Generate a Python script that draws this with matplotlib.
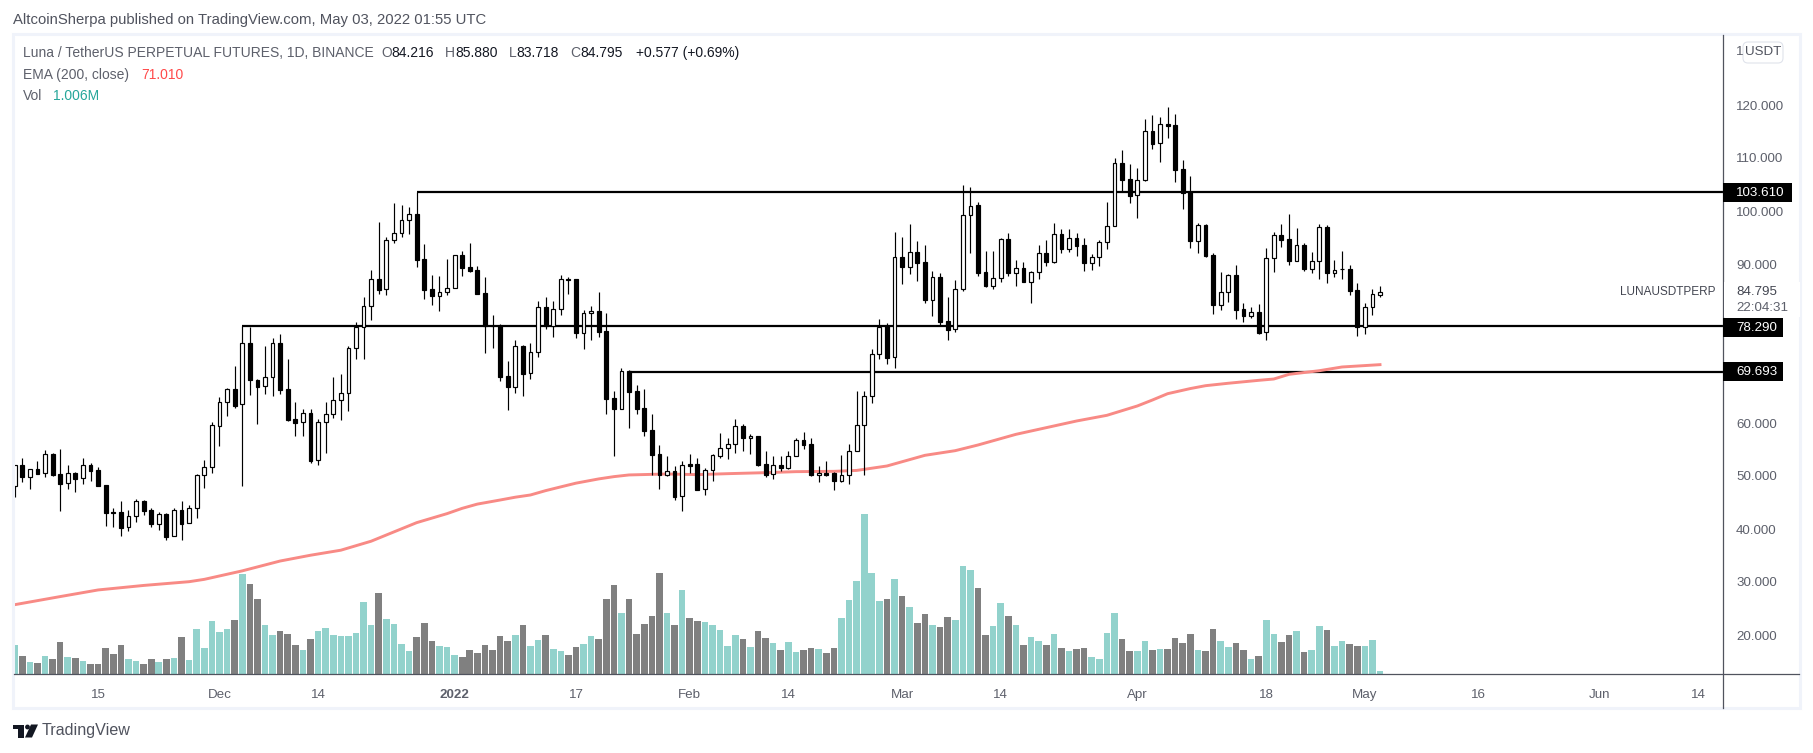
import matplotlib
matplotlib.use('Agg')
import matplotlib.pyplot as plt
import matplotlib.dates as mdates
from matplotlib.patches import Rectangle, FancyBboxPatch, Polygon, Circle
import numpy as np
import pandas as pd

# Daily candles, values
opens = [48.1, 52.1, 49.9, 51.3, 50.5, 54.15, 50.38, 48.62, 50.57, 49.56,
         52.08, 51.14, 48.3, 43.15, 43.21, 40.32, 42.39, 45.22, 43.53, 41.01,
         42.77, 38.62, 43.53, 41.07, 43.9, 50.13, 51.64, 59.5, 63.9, 66.35,
         63.52, 75.03, 68.12, 66.92, 68.62, 75.03, 66.35, 60.76, 60.13, 61.83,
         52.96, 60.13, 61.64, 64.28, 65.6, 74.09, 78.12, 82.02, 87.11, 85.22,
         94.47, 95.79, 98.24, 99.37, 90.88, 85.22, 84.03, 84.66, 85.41, 91.64,
         89.37, 88.81, 84.47, 78.37, 78.37, 68.81, 66.86, 74.47, 69.37, 73.34,
         81.83, 78.24, 81.45, 87.11, 87.11, 77.05, 80.69, 81.07, 77.3, 64.66,
         62.71, 69.81, 65.98, 62.77, 58.62, 54.09, 50.26, 50.88, 46.17, 52.2,
         52.2, 47.49, 51.07, 53.84, 55.22, 55.98, 59.37, 57.24, 57.49, 52.2,
         50.32, 52.02, 51.58, 53.71, 56.73, 55.98, 50.26, 50.51, 50.51, 49.12,
         50.13, 54.66, 59.56, 65.03, 72.96, 78.3, 72.39, 91.26, 89.5, 92.2,
         90.32, 83.27, 87.49, 79.19, 77.67, 85.22, 99.18, 101.07, 88.43, 85.91,
         87.3, 94.66, 88.37, 89.18, 86.67, 88.43, 92.01, 90.44, 95.6, 92.9,
         94.84, 93.52, 90.25, 91.26, 94.09, 97.11, 109.0, 105.98, 102.96, 105.79,
         115.03, 112.77, 116.35, 116.23, 107.86, 103.52, 94.4, 97.3, 91.64, 82.33,
         84.66, 87.86, 81.45, 80.25, 80.88, 77.11, 91.07, 95.41, 94.66, 90.63,
         93.52, 89.12, 90.5, 96.92, 88.37, 88.99, 89.0, 85.03, 78.05, 81.95,
         84.216]
highs = [52.1, 53.34, 51.3, 52.83, 54.91, 54.28, 55.1, 52.08, 50.82, 53.34,
         52.46, 51.64, 48.3, 44.03, 45.22, 43.53, 45.66, 45.47, 43.97, 43.27,
         42.96, 43.9, 45.22, 44.47, 50.38, 53.02, 60.13, 64.85, 66.54, 70.76,
         78.37, 78.18, 68.24, 74.53, 75.98, 76.79, 72.08, 63.97, 62.64, 62.64,
         60.76, 63.9, 68.68, 69.25, 74.53, 79.0, 83.71, 88.87, 97.86, 95.03,
         101.51, 101.13, 100.69, 103.61, 93.71, 87.93, 87.74, 90.88, 91.64, 92.45,
         93.9, 89.62, 87.49, 80.38, 78.62, 71.7, 75.66, 74.66, 75.03, 83.02,
         83.78, 83.02, 87.93, 87.55, 87.11, 81.32, 82.08, 84.66, 80.69, 66.04,
         70.38, 70.0, 67.17, 66.35, 61.7, 55.79, 53.78, 51.89, 52.77, 54.09,
         53.34, 51.45, 54.09, 58.12, 57.17, 60.76, 59.88, 57.87, 57.49, 54.72,
         53.71, 53.71, 54.72, 57.11, 58.24, 57.11, 51.83, 52.77, 50.7, 53.9,
         55.98, 66.04, 66.04, 73.9, 79.56, 78.93, 95.98, 95.1, 97.49, 94.28,
         93.59, 88.62, 88.3, 83.78, 86.98, 104.91, 104.53, 101.64, 92.39, 92.39,
         94.84, 95.79, 90.76, 90.32, 88.62, 93.59, 94.53, 97.67, 96.54, 96.54,
         95.79, 94.84, 91.89, 94.53, 101.7, 109.94, 111.45, 108.81, 108.05, 117.36,
         118.11, 117.67, 119.62, 118.3, 109.56, 106.54, 97.67, 97.49, 92.01, 88.49,
         88.05, 89.75, 82.58, 81.83, 82.39, 93.02, 95.98, 97.49, 99.37, 96.73,
         93.9, 92.2, 97.49, 97.3, 90.69, 92.39, 89.75, 86.35, 82.58, 85.22,
         85.88]
lows = [46.1, 48.94, 47.61, 50.4, 49.9, 50.0, 43.46, 47.61, 47.05, 48.56,
        49.12, 48.18, 40.63, 40.44, 38.75, 39.69, 41.39, 42.65, 40.44, 39.88,
        37.99, 38.62, 37.99, 41.07, 42.14, 47.8, 50.63, 55.73, 61.39, 62.9,
        48.18, 65.35, 59.88, 65.47, 65.1, 65.54, 60.44, 57.61, 57.55, 52.52,
        52.14, 54.41, 61.01, 60.63, 62.33, 72.14, 72.14, 79.5, 84.4, 84.22,
        93.9, 95.16, 95.72, 89.5, 83.46, 82.33, 81.2, 84.22, 85.41, 87.8,
        88.56, 84.4, 73.27, 74.22, 67.99, 62.52, 65.73, 65.16, 68.37, 72.52,
        77.8, 76.29, 80.44, 84.4, 76.1, 74.03, 75.72, 76.29, 61.76, 53.84,
        62.71, 59.12, 61.76, 57.61, 50.26, 47.61, 50.07, 45.54, 43.46, 50.63,
        47.43, 46.48, 49.12, 53.46, 53.15, 54.41, 54.78, 54.22, 51.95, 49.88,
        49.5, 51.01, 51.39, 53.71, 55.16, 50.07, 48.94, 49.94, 47.43, 48.94,
        48.56, 54.66, 50.26, 63.84, 72.14, 71.2, 70.44, 86.23, 88.11, 86.86,
        82.71, 80.25, 78.49, 75.73, 77.24, 84.97, 92.08, 87.8, 85.66, 85.35,
        86.67, 87.8, 85.91, 86.54, 82.71, 87.17, 89.69, 90.25, 92.14, 92.33,
        91.57, 88.68, 88.93, 89.69, 92.9, 97.11, 103.71, 101.57, 98.74, 105.6,
        111.76, 109.31, 113.84, 105.54, 100.44, 93.08, 92.01, 91.39, 80.63, 81.39,
        82.83, 79.69, 79.12, 79.88, 76.86, 75.73, 88.55, 93.27, 89.88, 90.63,
        88.74, 88.37, 87.23, 86.48, 87.61, 87.23, 84.22, 76.48, 76.86, 80.44,
        83.718]
closes = [52.1, 49.9, 51.3, 50.44, 54.09, 50.19, 48.56, 50.51, 49.5, 52.02,
          51.01, 48.18, 43.09, 43.1, 40.26, 42.39, 45.22, 43.46, 41.01, 42.77,
          38.56, 43.53, 41.01, 43.9, 50.13, 51.64, 59.56, 63.9, 66.35, 63.27,
          75.03, 68.05, 66.86, 68.62, 75.03, 66.29, 60.63, 60.07, 61.83, 52.9,
          60.13, 61.64, 64.28, 65.6, 74.09, 78.12, 82.02, 87.11, 85.16, 94.47,
          95.79, 98.24, 99.37, 90.82, 85.16, 84.03, 84.66, 85.41, 91.64, 89.31,
          88.68, 84.4, 78.37, 78.3, 68.74, 66.86, 74.47, 69.31, 73.34, 81.83,
          78.37, 81.45, 87.11, 87.05, 77.05, 80.69, 81.07, 77.23, 64.59, 62.71,
          69.75, 65.92, 62.71, 58.56, 54.03, 50.26, 50.88, 46.1, 52.02, 51.95,
          47.43, 51.07, 53.9, 55.22, 55.98, 59.37, 57.24, 57.49, 52.08, 50.26,
          52.02, 51.58, 53.71, 56.73, 55.92, 50.26, 50.51, 50.19, 49.12, 50.13,
          54.66, 59.56, 65.03, 72.96, 78.12, 72.33, 91.26, 89.5, 92.2, 90.25,
          83.27, 87.49, 79.12, 77.61, 85.22, 99.18, 101.0, 88.37, 85.85, 87.3,
          94.66, 88.3, 89.18, 86.67, 88.43, 92.01, 90.44, 95.6, 92.9, 94.84,
          93.46, 90.25, 91.26, 94.09, 97.11, 109.0, 105.91, 102.89, 105.79, 115.03,
          112.7, 116.35, 116.1, 107.8, 103.33, 94.4, 97.3, 91.51, 82.33, 84.66,
          87.86, 81.39, 80.25, 80.88, 77.05, 91.07, 95.41, 94.59, 90.63, 93.52,
          89.06, 90.5, 96.92, 88.37, 88.93, 89.0, 84.97, 78.05, 81.95, 84.28,
          84.795]
# Volume in millions
volumes = [8.8, 5.5, 3.7, 3.4, 5.5, 4.6, 9.7, 5.2, 4.9, 4.0,
           3.1, 3.1, 7.9, 6.1, 8.8, 4.6, 4.0, 3.1, 4.6, 3.7,
           4.6, 4.9, 11.2, 4.3, 13.6, 7.9, 16.0, 12.7, 13.6, 16.3,
           30.1, 27.1, 22.6, 14.8, 11.8, 13.0, 12.1, 8.8, 7.3, 10.6,
           13.0, 13.9, 11.8, 11.5, 11.5, 12.4, 21.7, 14.8, 24.4, 16.6,
           15.1, 9.1, 7.0, 11.2, 15.4, 10.0, 8.5, 8.2, 5.8, 5.2,
           7.3, 6.4, 8.8, 7.3, 11.5, 10.0, 11.8, 14.8, 8.5, 10.3,
           11.8, 7.6, 7.0, 5.8, 8.2, 9.1, 11.5, 10.6, 22.6, 26.8,
           18.4, 22.6, 12.1, 15.1, 17.5, 30.4, 18.4, 14.8, 25.3, 16.9,
           16.0, 15.7, 14.8, 13.3, 8.5, 11.8, 10.6, 8.2, 13.0, 10.9,
           9.4, 7.3, 9.7, 6.7, 7.3, 7.9, 7.6, 6.4, 7.9, 16.9,
           22.3, 28.0, 48.1, 30.4, 22.0, 22.6, 28.6, 23.5, 20.2, 15.4,
           18.1, 14.8, 14.2, 17.2, 16.3, 32.5, 31.3, 25.9, 11.8, 14.5,
           21.4, 17.5, 14.8, 8.8, 11.2, 10.0, 8.8, 12.1, 7.9, 7.0,
           7.6, 7.9, 5.2, 4.6, 12.4, 18.4, 10.6, 7.0, 7.0, 10.0,
           7.3, 7.6, 7.6, 10.9, 9.4, 12.1, 7.3, 7.0, 13.6, 10.0,
           8.2, 9.4, 7.3, 4.6, 5.5, 16.3, 12.1, 9.7, 11.8, 13.0,
           6.7, 7.3, 14.5, 13.3, 8.5, 10.0, 9.1, 8.5, 8.5, 10.3,
           1.006]
# EMA 200 read at a number of days
ema_days = [0, 6, 11, 17, 23, 25, 30, 35, 39, 43, 47, 49, 53, 57, 59, 61, 64, 66, 68, 70, 72, 74, 77, 79, 81,
            86, 90, 94, 99, 103, 108, 111, 115, 120, 124, 127, 132, 140, 144, 148, 150, 152,
            155, 157, 160, 164, 166, 168, 172, 175, 180]
ema_values = [25.72, 27.25, 28.5, 29.35, 30.06, 30.5, 32.1, 33.96, 35.05, 36.0, 37.7, 38.87,
              41.2, 42.9, 43.9, 44.7, 45.47, 46.0, 46.42, 47.24, 47.95, 48.65, 49.45, 49.88, 50.2,
              50.38, 50.26, 50.44, 50.63, 50.82, 50.88, 51.05, 51.89, 53.9, 54.78, 55.85, 57.86,
              60.38, 61.45, 63.21, 64.34, 65.53, 66.5, 67.04, 67.5, 68.05, 68.3, 69.18, 69.87,
              70.57, 71.01]

# (level, index of the candle the line starts from)
level_prices = [103.61, 78.29, 69.693]
level_starts = [53, 30, 81]
price_ticks = [120, 110, 100, 90, 60, 50, 40, 30, 20]
date_ticks = ['2021-11-15', '2021-12-01', '2021-12-14', '2022-01-01', '2022-01-17', '2022-02-01',
              '2022-02-14', '2022-03-01', '2022-03-14', '2022-04-01', '2022-04-18', '2022-05-01',
              '2022-05-16', '2022-06-01', '2022-06-14']
date_labels = ['15', 'Dec', '14', '2022', '17', 'Feb', '14', 'Mar', '14', 'Apr', '18', 'May',
               '16', 'Jun', '14']

W, H = 1813, 753
FONT = 'Liberation Sans'
TEAL = '#92d2cc'
GRAY = '#808080'
AXIS = '#50535e'
TEXT = '#5d606b'

opens, highs, lows, closes = map(np.array, (opens, highs, lows, closes))
dates = pd.date_range('2021-11-04', periods=len(opens))
x = mdates.date2num(dates)
up = closes >= opens

fig = plt.figure(figsize=(W / 100, H / 100), dpi=100, facecolor='white')

# plot area in pixels: x 14-1723, y 35-674
rect = [14 / W, 1 - 674 / H, (1723 - 14) / W, (674 - 35) / H]
vol_ax = fig.add_axes(rect, zorder=1)
ax = fig.add_axes(rect, zorder=2, sharex=vol_ax)
ax.patch.set_visible(False)

px_per_day = 7.585
ax.set_xlim(x[0] - 0.09, x[0] + (1723 - 14.7) / px_per_day)
ax.set_ylim(120 - 569 / 5.3, 120 + 70 / 5.3)
vol_ax.set_ylim(0, 639 / 3.33)

# volume
vol_ax.bar(x, volumes, width=0.87, color=[TEAL if u else GRAY for u in up], linewidth=0)
vol_ax.set_yticks([])
for a in (ax, vol_ax):
    for s in a.spines.values():
        s.set_visible(False)

# levels, EMA, then candles on top
for lvl, st in zip(level_prices, level_starts):
    ax.plot([x[st], ax.get_xlim()[1]], [lvl, lvl], color='black', lw=1.6, zorder=2,
            solid_capstyle='butt')
ax.plot(x[ema_days], ema_values, color='#f88a85', lw=2.1, zorder=3)
ax.vlines(x, lows, highs, color='black', lw=0.85, zorder=4)
ax.bar(x, np.abs(closes - opens), bottom=np.minimum(opens, closes), width=0.5,
       color=['white' if u else 'black' for u in up], edgecolor='black', linewidth=0.85, zorder=5)

ax.yaxis.tick_right()
ax.set_yticks(price_ticks)
ax.set_yticklabels(['%.3f' % t for t in price_ticks], fontsize=9.6, family=FONT, color=TEXT)
ax.set_xticks(mdates.date2num(pd.to_datetime(date_ticks)))
ax.set_xticklabels(date_labels, fontsize=9.6, family=FONT, color=TEXT)
ax.tick_params(axis='both', length=0)
ax.tick_params(axis='y', pad=9.4)
ax.tick_params(axis='x', pad=11)
for lab in ax.get_xticklabels():
    if lab.get_text() == '2022':
        lab.set_fontweight('bold')
plt.setp(vol_ax.get_xticklabels(), visible=False)
vol_ax.tick_params(axis='x', length=0)

# overlay in pixel coordinates for the frame, header and price tags
ui = fig.add_axes([0, 0, 1, 1], zorder=5)
ui.set_xlim(0, W)
ui.set_ylim(H, 0)
ui.axis('off')

ui.add_patch(Rectangle((12.5, 34), 1800 - 12.5, 708 - 34, fill=False, edgecolor='#f0f3fa', lw=2.2))
ui.plot([14, 1799], [674, 674], color=AXIS, lw=0.9)
ui.plot([1723, 1723], [35, 708], color=AXIS, lw=0.9)


def label(px, py, s, color=TEXT, size=9.6, **kw):
    ui.text(px, py, s, color=color, fontsize=size, family=FONT, va='center', **kw)


label(13, 20, 'AltcoinSherpa published on TradingView.com, May 03, 2022 01:55 UTC', color='#50535e', size=10.7)
label(23, 53, 'Luna / TetherUS PERPETUAL FUTURES, 1D, BINANCE', size=10)
for px, head, val in [(381, 'O', '84.216'), (445, 'H', '85.880'), (509, 'L', '83.718'), (570, 'C', '84.795')]:
    t = ui.text(px, 53, head, color=TEXT, fontsize=10, family=FONT, va='center')
    ui.annotate(val, xy=(1, 0.5), xycoords=t, va='center', color='#131722', fontsize=10, family=FONT)
label(636, 53, '+0.577 (+0.69%)', color='#131722', size=10)
label(23, 75, 'EMA (200, close)', size=10)
label(141, 75, '71.010', color='#ff4a4a', size=10)
label(23, 96, 'Vol', size=10)
label(53, 96, '1.006M', color='#26a69a', size=10)

# USDT button hides most of the top tick label, only its first digit shows
label(1736, 52, '1')
ui.add_patch(FancyBboxPatch((1745, 44), 36, 17, boxstyle='round,pad=2,rounding_size=5',
                            facecolor='white', edgecolor='#e0e3eb', lw=0.8))
label(1763, 52, 'USDT', color='#50535e', ha='center')

# current price block sits on the axis line
ui.add_patch(Rectangle((1723.5, 282), 76, 35, facecolor='white', edgecolor='none', zorder=3))
label(1620, 292, 'LUNAUSDTPERP', color='#434651', size=8.5)
label(1736, 292, '84.795', color='#434651', zorder=4)
label(1736, 308, '22:04:31', zorder=4)

# black price tags for the levels
for lvl, py, wid in zip(level_prices, [192.5, 327.5, 371.5], [69, 60, 60]):
    ui.add_patch(Rectangle((1723, py - 9.5), wid, 19, facecolor='black', edgecolor='none', zorder=4))
    label(1736, py, '%.3f' % lvl, color='white', zorder=5)

# TradingView logo
ui.add_patch(Rectangle((13, 724.5), 11, 4.5, facecolor='#131722', edgecolor='none'))
ui.add_patch(Rectangle((18, 724.5), 6, 13, facecolor='#131722', edgecolor='none'))
ui.add_patch(Circle((27.5, 727), 2.4, facecolor='#131722', edgecolor='none'))
ui.add_patch(Polygon([(31, 724.5), (38, 724.5), (32, 737.5), (25, 737.5)], facecolor='#131722', edgecolor='none'))
label(42, 731, 'TradingView', color='#50535e', size=11.6)

fig.savefig('out.png', dpi=100, facecolor='white')
plt.close(fig)
